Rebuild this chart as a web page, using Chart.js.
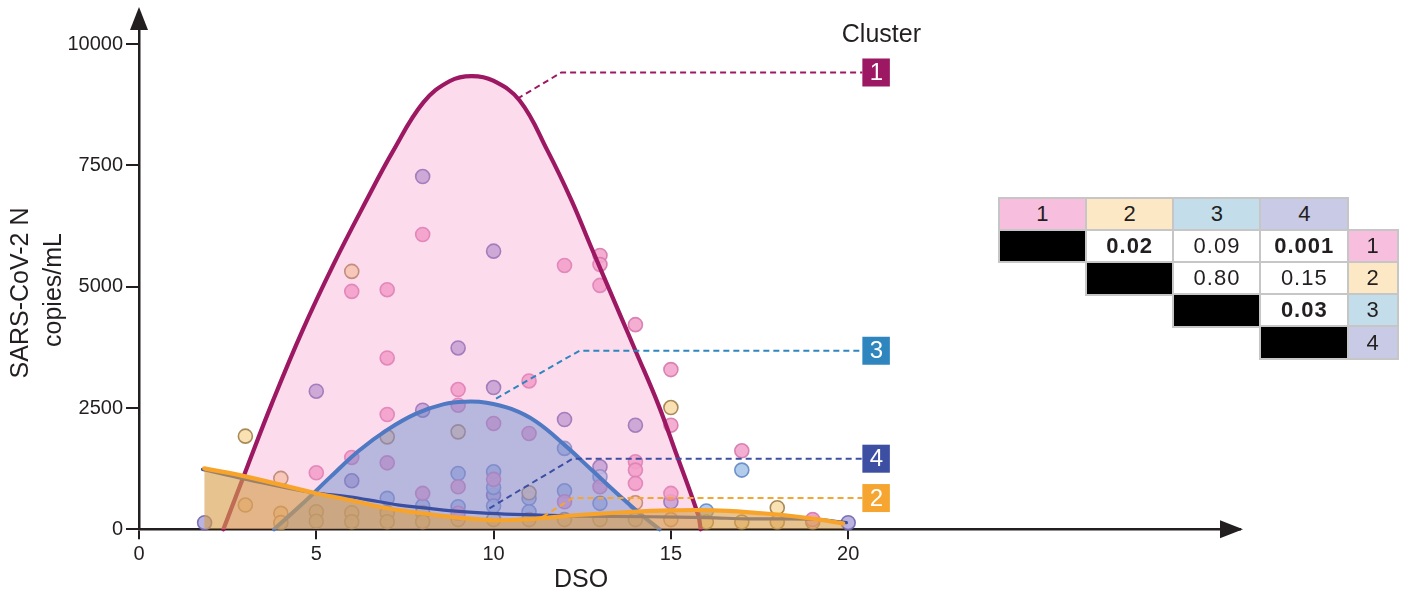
<!DOCTYPE html>
<html>
<head>
<meta charset="utf-8">
<script src="https://cdn.jsdelivr.net/npm/chart.js@4.4.1/dist/chart.umd.min.js"></script>
<style>
  html, body { margin: 0; padding: 0; background: #fff; }
  #wrap { position: relative; width: 1411px; height: 602px; overflow: hidden; }
  #c { position: absolute; left: 0; top: 0; }
  .cell {
    position: absolute; box-sizing: border-box; border: 2.5px solid #c6c6c6;
    display: flex; align-items: center; justify-content: center;
    font-family: "Liberation Sans", Arial, sans-serif; font-size: 22px; color: #231f20;
  }
  .val { letter-spacing: 1px; }
  .sig { font-weight: bold; }
</style>
</head>
<body>
<div id="wrap">
  <canvas id="c" width="1411" height="602"></canvas>
  <div id="ptable"></div>
</div>
<script>
// ---- axis ticks ----
const xTicks = [0, 5, 10, 15, 20];
const yTicks = [0, 2500, 5000, 7500, 10000];

// ---- individual measurements (day since onset, copies/mL) by cluster ----
const c1Day  = [5, 6, 6, 7, 7, 7, 7, 8, 8, 9, 9, 9, 9, 10, 10, 11, 11, 12, 12, 13, 13, 13, 13, 14, 14, 14, 14, 15, 15, 15, 17, 19];
const c1Load = [1165, 4903, 1481, 4938, 3531, 2366, 1370, 6076, 740, 2880, 2558, 877, 330, 2181, 1029, 3058, 1975, 5438, 568, 5644, 5459, 5027, 877, 4218, 1391, 1220, 946, 3292, 2146, 740, 1618, 200];

const c2Day  = [3, 3, 4, 4, 4, 5, 5, 6, 6, 6, 7, 7, 7, 8, 8, 9, 9, 10, 11, 11, 12, 13, 14, 14, 15, 15, 16, 17, 18, 18, 19];
const c2Load = [1920, 500, 1049, 329, 137, 362, 165, 5315, 342, 157, 1905, 342, 157, 342, 157, 2008, 200, 200, 753, 200, 200, 200, 547, 200, 2510, 200, 150, 150, 445, 150, 150];

const c3Day  = [7, 8, 9, 9, 10, 10, 10, 11, 11, 12, 12, 13, 13, 16, 17];
const c3Load = [638, 480, 1150, 465, 1185, 864, 480, 638, 362, 1667, 794, 1082, 535, 377, 1220];

const c4Day  = [1.85, 5, 6, 8, 8, 9, 10, 10, 10, 12, 13, 14, 15, 20];
const c4Load = [136, 2846, 1000, 7270, 2455, 3737, 5733, 2922, 706, 2263, 1288, 2146, 568, 136];

// ---- fitted cluster trajectories ----
const fit1X = [2.38, 3.06, 3.74, 4.6, 5.5, 6.4, 7.16, 8.02, 8.77, 9.38, 9.99, 10.74, 11.52, 12.2, 12.72, 13.58, 14.02, 14.64, 15.16, 15.77, 15.84];
const fit1Y = [0, 1300, 2580, 4080, 5480, 6760, 7790, 8800, 9240, 9340, 9245, 8833, 7805, 6776, 5870, 4400, 3650, 2580, 1540, 290, 0];

const fit2X = [1.84, 2.96, 4.9, 5.9, 6.78, 7.6, 8.75, 9.88, 10.6, 11.29, 12.5, 13.93, 15.0, 15.81, 16.6, 17.4, 18.16, 19.0, 19.86];
const fit2Y = [1255, 1097, 760, 610, 465, 370, 260, 191, 195, 226, 300, 362, 390, 397, 380, 340, 294, 220, 123];

const fit3X = [3.81, 4.6, 5.4, 6.2, 7.0, 7.8, 8.6, 9.2, 9.8, 10.5, 11.2, 12.0, 12.8, 13.6, 14.2, 14.68];
const fit3Y = [0, 520, 1080, 1620, 2050, 2380, 2580, 2630, 2610, 2480, 2220, 1740, 1200, 660, 280, 0];

const fit4X = [1.79, 2.96, 4.85, 5.93, 6.78, 7.34, 8.19, 8.75, 9.88, 11.29, 12.5, 14.4, 16.0, 17.2, 19.1, 19.95];
const fit4Y = [1235, 1040, 760, 671, 568, 500, 432, 383, 329, 294, 270, 259, 240, 215, 206, 136];

// ---- cluster call-outs (curve anchor, elbow, label end) ----
const clusterIds = ['1', '3', '4', '2'];
const lead1X = [10.67, 11.91, 20.4]; const lead1Y = [8874, 9415, 9415];
const lead3X = [10.07, 12.42, 20.4]; const lead3Y = [2695, 3680, 3680];
const lead4X = [9.88, 12.23, 20.4];  const lead4Y = [432, 1455, 1455];
const lead2X = [11.39, 12.23, 20.4]; const lead2Y = [260, 644, 644];

// ---- pairwise comparison table ----
const tableClusters = ['1', '2', '3', '4'];
const pRow1 = ['0.02', '0.09', '0.001'];
const pRow2 = ['0.80', '0.15'];
const pRow3 = ['0.03'];

const FONT = '"Liberation Sans", Arial, Helvetica, sans-serif';
const INK = '#231f20';
const clusterLine = { '1': '#9c1862', '2': '#f8a42a', '3': '#4f79c2', '4': '#3a4fa0' };
const calloutColor = { '1': '#9c1862', '2': '#f6a530', '3': '#2f86bf', '4': '#3c4fa3' };
const tableTint = { '1': '#f7bedd', '2': '#fde8c6', '3': '#c3deea', '4': '#c9cae5' };

const pts = (xs, ys) => xs.map((v, i) => ({ x: v, y: ys[i] }));

function dots(xs, ys, fill, edge) {
  return {
    data: pts(xs, ys), showLine: false, pointRadius: 7, pointHoverRadius: 7,
    pointBackgroundColor: fill, pointBorderColor: edge, pointBorderWidth: 1.6,
    order: 20, clip: false
  };
}
function curve(xs, ys, line, fillColor, width, order) {
  return {
    data: pts(xs, ys), borderColor: line, borderWidth: width, pointRadius: 0,
    tension: 0.4, fill: fillColor ? 'origin' : false,
    backgroundColor: fillColor || 'transparent', order: order, clip: false,
    borderCapStyle: 'round', borderJoinStyle: 'round'
  };
}
function leader(xs, ys, color) {
  return {
    data: pts(xs, ys), borderColor: color, borderWidth: 2, borderDash: [6, 4],
    pointRadius: 0, fill: false, tension: 0, order: 1, clip: false
  };
}

const leads = { '1': [lead1X, lead1Y], '3': [lead3X, lead3Y], '4': [lead4X, lead4Y], '2': [lead2X, lead2Y] };

const datasets = [
  dots(c1Day, c1Load, 'rgba(243,165,204,0.9)', 'rgba(214,120,174,0.9)'),
  dots(c2Day, c2Load, 'rgba(249,222,172,0.92)', 'rgba(160,126,74,0.9)'),
  dots(c3Day, c3Load, 'rgba(170,198,234,0.9)', 'rgba(100,136,196,0.9)'),
  dots(c4Day, c4Load, 'rgba(178,170,220,0.9)', 'rgba(112,102,176,0.9)'),
  curve(fit1X, fit1Y, clusterLine['1'], 'rgba(244,150,200,0.34)', 4.2, 12),
  curve(fit3X, fit3Y, clusterLine['3'], 'rgba(95,135,205,0.43)', 4, 11),
  curve(fit4X, fit4Y, clusterLine['4'], null, 3.2, 10),
  curve(fit2X, fit2Y, clusterLine['2'], 'rgba(215,158,75,0.62)', 4.2, 9)
];
clusterIds.forEach(id => datasets.push(leader(leads[id][0], leads[id][1], calloutColor[id])));

// arrows, axis titles and cluster labels
const decorations = {
  id: 'decorations',
  afterDraw(chart) {
    const { ctx, chartArea: a, scales: { x, y } } = chart;
    const x0 = x.getPixelForValue(0), y0 = y.getPixelForValue(0);
    ctx.save();
    ctx.fillStyle = INK; ctx.strokeStyle = INK; ctx.lineWidth = 2.5;
    // y arrow
    ctx.beginPath(); ctx.moveTo(x0, a.top); ctx.lineTo(x0, 24); ctx.stroke();
    ctx.beginPath(); ctx.moveTo(x0, 7); ctx.lineTo(x0 - 9, 30); ctx.lineTo(x0 + 9, 30); ctx.closePath(); ctx.fill();
    // x arrow
    ctx.beginPath(); ctx.moveTo(a.right - 20, y0 - 9); ctx.lineTo(a.right + 3, y0); ctx.lineTo(a.right - 20, y0 + 9); ctx.closePath(); ctx.fill();

    // axis titles
    ctx.font = '25px ' + FONT; ctx.textAlign = 'center'; ctx.textBaseline = 'middle';
    ctx.fillText('DSO', 581, 580);
    ctx.save(); ctx.translate(21, 293); ctx.rotate(-Math.PI / 2); ctx.fillText('SARS-CoV-2 N', 0, 0); ctx.restore();
    ctx.save(); ctx.translate(54, 290); ctx.rotate(-Math.PI / 2); ctx.fillText('copies/mL', 0, 0); ctx.restore();

    // cluster call-out boxes
    let boxCx = 0;
    clusterIds.forEach(id => {
      const [lx, ly] = leads[id];
      const px = x.getPixelForValue(lx[lx.length - 1]);
      const py = y.getPixelForValue(ly[ly.length - 1]);
      ctx.fillStyle = calloutColor[id];
      ctx.fillRect(px, py - 14, 27.5, 28);
      ctx.fillStyle = '#fff';
      ctx.font = '24px ' + FONT;
      ctx.fillText(id, px + 14, py + 1);
      boxCx = px + 14;
    });
    ctx.fillStyle = INK; ctx.font = '25px ' + FONT;
    ctx.fillText('Cluster', boxCx + 5, 35);
    ctx.restore();
  }
};

new Chart(document.getElementById('c'), {
  type: 'line',
  data: { datasets },
  options: {
    responsive: false, animation: false, devicePixelRatio: 1,
    layout: { padding: { left: 0, right: 171, top: 14, bottom: 0 } },
    plugins: { legend: { display: false }, tooltip: { enabled: false } },
    scales: {
      x: {
        type: 'linear', min: 0, max: 31.05,
        afterFit: s => { s.height = 72.7; },
        afterBuildTicks: s => { s.ticks = xTicks.map(v => ({ value: v })); },
        grid: { drawOnChartArea: false, drawTicks: true, tickLength: 10, color: INK, lineWidth: 2 },
        border: { display: true, color: INK, width: 2.5 },
        ticks: { font: { family: FONT, size: 20 }, color: INK, padding: 3, maxRotation: 0, autoSkip: false, callback: v => String(v) }
      },
      y: {
        type: 'linear', min: 0, max: 10600,
        afterFit: s => { s.width = 139; },
        afterBuildTicks: s => { s.ticks = yTicks.map(v => ({ value: v })); },
        grid: { drawOnChartArea: false, drawTicks: true, tickLength: 13, color: INK, lineWidth: 2 },
        border: { display: true, color: INK, width: 2.5 },
        ticks: { font: { family: FONT, size: 20 }, color: INK, padding: 3, autoSkip: false, callback: v => String(v) }
      }
    }
  },
  plugins: [decorations]
});

// ---- p-value table ----
(function buildTable() {
  const host = document.getElementById('ptable');
  const left0 = 997.5, top0 = 196.5, pitchX = 87.3, pitchY = 32.2, labW = 52;
  function cell(left, top, w, h, bg, text, cls) {
    const d = document.createElement('div');
    d.className = 'cell' + (cls ? ' ' + cls : '');
    d.style.left = left + 'px'; d.style.top = top + 'px';
    d.style.width = w + 'px'; d.style.height = h + 'px';
    d.style.background = bg;
    if (text) d.textContent = text;
    host.appendChild(d);
  }
  const w = pitchX + 2.5, h = pitchY + 2.5;
  tableClusters.forEach((id, c) => cell(left0 + c * pitchX, top0, w, h, tableTint[id], id));
  const rows = [pRow1, pRow2, pRow3, []];
  rows.forEach((vals, r) => {
    const top = top0 + (r + 1) * pitchY;
    cell(left0 + r * pitchX, top, w, h, '#000', '');
    vals.forEach((v, k) => {
      const c = r + 1 + k;
      cell(left0 + c * pitchX, top, w, h, '#fff', v, 'val' + (parseFloat(v) < 0.05 ? ' sig' : ''));
    });
    cell(left0 + 4 * pitchX, top, labW, h, tableTint[tableClusters[r]], tableClusters[r]);
  });
})();
</script>
</body>
</html>
